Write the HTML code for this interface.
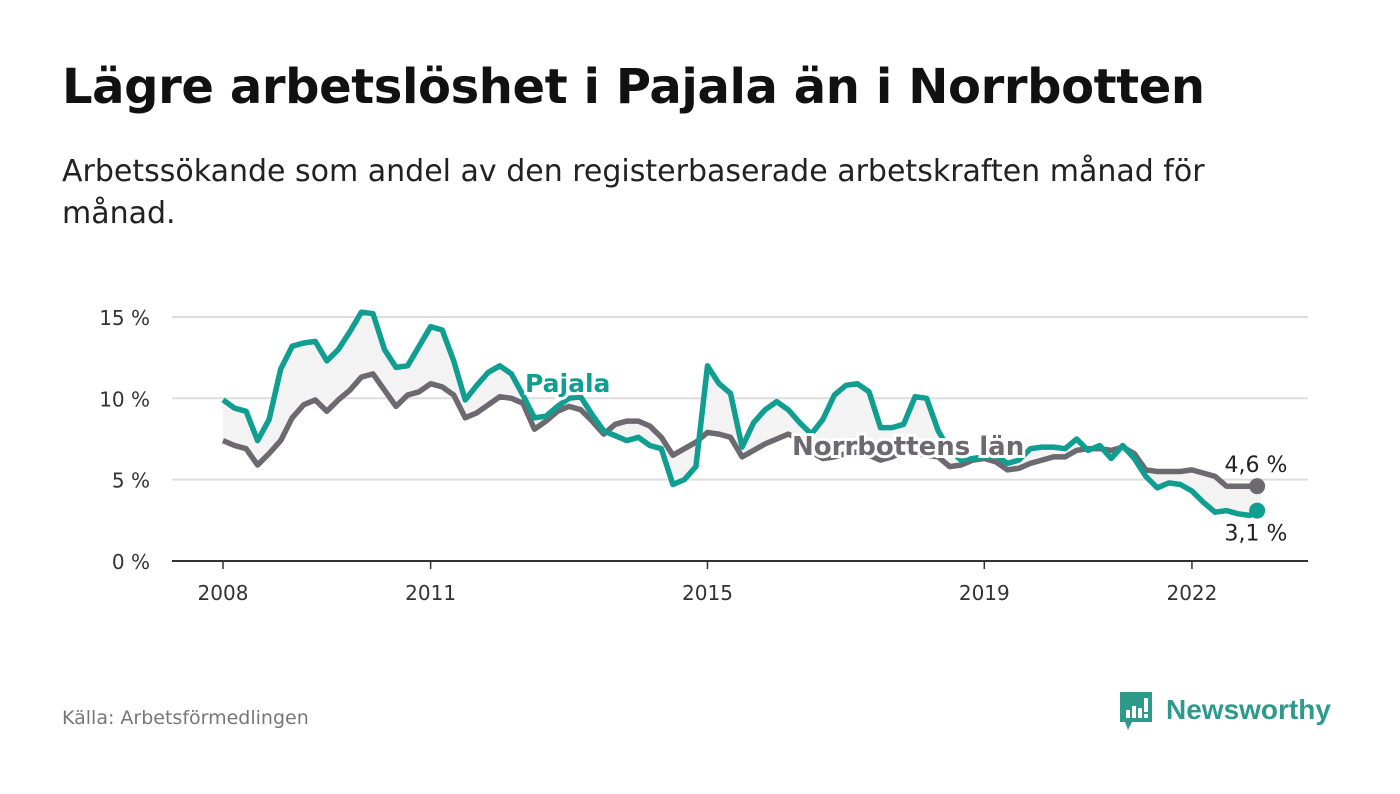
<!DOCTYPE html>
<html><head><meta charset="utf-8">
<style>
body{margin:0;background:#fff;width:1400px;height:794px;overflow:hidden;font-family:"DejaVu Sans","Liberation Sans",sans-serif;}
h1{position:absolute;left:62px;top:59px;margin:0;font-size:48px;font-weight:bold;color:#111;letter-spacing:-0.4px;}
.sub{position:absolute;left:62px;top:151px;width:1200px;font-size:30px;line-height:42px;color:#222;}
.src{position:absolute;left:62px;top:707px;font-size:19px;color:#777;}
.logo{position:absolute;left:1118px;top:690px;}
</style></head><body>
<h1>Lägre arbetslöshet i Pajala än i Norrbotten</h1>
<div class="sub">Arbetssökande som andel av den registerbaserade arbetskraften månad för månad.</div>
<svg id="chart" width="1400" height="794" style="position:absolute;left:0;top:0"></svg>
<div class="src">Källa: Arbetsförmedlingen</div>
<div class="logo">
<svg width="230" height="50">
<path d="M2 2 h32 v30 h-20 l-4 8 l-3 -8 h-5 z" fill="#2e9a8c"/>
<rect x="8" y="20" width="4" height="8" fill="#fff"/><rect x="14" y="16" width="4" height="12" fill="#fff"/><rect x="20" y="18" width="4" height="10" fill="#fff"/><rect x="26" y="8" width="4" height="14" fill="#fff"/><rect x="26" y="24" width="4" height="4" fill="#fff"/>
<text x="48" y="29" font-family="Liberation Sans, sans-serif" font-weight="bold" font-size="28" fill="#2e9a8c">Newsworthy</text>
</svg></div>
<script>
const years=[2008,2011,2015,2019,2022];
const yTicks=[0,5,10,15];
const pajala=[9.9,9.4,9.2,7.4,8.7,11.8,13.2,13.4,13.5,12.3,13.0,14.1,15.3,15.2,13.0,11.9,12.0,13.2,14.4,14.2,12.3,9.9,10.8,11.6,12.0,11.5,10.2,8.8,8.9,9.5,10.0,10.1,9.0,8.0,7.7,7.4,7.6,7.1,6.9,4.7,5.0,5.8,12.0,10.9,10.3,7.0,8.5,9.3,9.8,9.3,8.5,7.8,8.7,10.2,10.8,10.9,10.4,8.2,8.2,8.4,10.1,10.0,8.0,6.8,6.2,6.3,6.4,6.5,6.0,6.2,6.9,7.0,7.0,6.9,7.5,6.8,7.1,6.3,7.1,6.3,5.2,4.5,4.8,4.7,4.3,3.6,3.0,3.1,2.9,2.8,3.1];
const norrbotten=[7.4,7.1,6.9,5.9,6.6,7.4,8.8,9.6,9.9,9.2,9.9,10.5,11.3,11.5,10.5,9.5,10.2,10.4,10.9,10.7,10.2,8.8,9.1,9.6,10.1,10.0,9.7,8.1,8.6,9.2,9.5,9.3,8.6,7.8,8.4,8.6,8.6,8.3,7.6,6.5,6.9,7.3,7.9,7.8,7.6,6.4,6.8,7.2,7.5,7.8,7.5,6.7,6.3,6.4,6.6,6.7,6.5,6.2,6.4,6.7,6.6,6.5,6.4,5.8,5.9,6.2,6.3,6.1,5.6,5.7,6.0,6.2,6.4,6.4,6.8,6.9,6.9,6.8,7.0,6.6,5.6,5.5,5.5,5.5,5.6,5.4,5.2,4.6,4.6,4.6,4.6];
const endLabels=["4,6 %","3,1 %"];
const NS="http://www.w3.org/2000/svg";
const svg=document.getElementById('chart');
const x0=223,pxYear=69.21,y0=561,pxPct=16.27;
const xY=y=>x0+(y-2008)*pxYear;
const xI=i=>x0+i*2*pxYear/12;
const yV=v=>y0-v*pxPct;
function el(t,a,p){const e=document.createElementNS(NS,t);for(const k in a)e.setAttribute(k,a[k]);(p||svg).appendChild(e);return e;}
yTicks.forEach(t=>{
 const g=el('line',{x1:172,x2:1308,y1:yV(t),y2:yV(t),stroke:t===0?'#333':'#ddd','stroke-width':2});
 
 
 const tx=el('text',{x:150,y:yV(t)+8,'text-anchor':'end','font-size':20,fill:'#333'});
 tx.textContent=t+' %';
 
 
});
years.forEach(y=>{
 const l=el('line',{x1:xY(y),x2:xY(y),y1:y0,y2:y0+8,stroke:'#333','stroke-width':1.5});
 
 
 const tx=el('text',{x:xY(y),y:600,'text-anchor':'middle','font-size':20,fill:'#333'});
 tx.textContent=y;
 
 
});
let d='';pajala.forEach((v,i)=>d+=(i?'L':'M')+xI(i).toFixed(1)+' '+yV(v).toFixed(1));
for(let i=norrbotten.length-1;i>=0;i--)d+='L'+xI(i).toFixed(1)+' '+yV(norrbotten[i]).toFixed(1);
const area=el('path',{d:d+'Z',fill:'#f3f3f3'});


function line(arr,c,name){
 let p='';arr.forEach((v,i)=>p+=(i?'L':'M')+xI(i).toFixed(1)+' '+yV(v).toFixed(1));
 const e=el('path',{d:p,fill:'none',stroke:c,'stroke-width':5.5,'stroke-linejoin':'round'});
 
 
 const n=arr.length-1;
 const dot=el('circle',{cx:xI(n)-4,cy:yV(arr[n]),r:8,fill:c});
 
 
}
line(norrbotten,'#6c6a70','norrbotten-line');
line(pajala,'#0f9e90','pajala-line');
const l1=el('text',{x:1256,y:yV(norrbotten[norrbotten.length-1])-14,'text-anchor':'middle','font-size':22,fill:'#222'});
l1.textContent=endLabels[0];


const l2=el('text',{x:1256,y:yV(pajala[pajala.length-1])+30,'text-anchor':'middle','font-size':22,fill:'#222'});
l2.textContent=endLabels[1];


const s1=el('text',{x:525,y:392,'font-size':25,'font-weight':'bold',fill:'#0f9e90',stroke:'#fff','stroke-width':6,'paint-order':'stroke'});
s1.textContent='Pajala';


const s2=el('text',{x:792,y:455,'font-size':26,'font-weight':'bold',fill:'#6c6a70',stroke:'#fff','stroke-width':6,'paint-order':'stroke'});
s2.textContent='Norrbottens län';


</script>
</body></html>
